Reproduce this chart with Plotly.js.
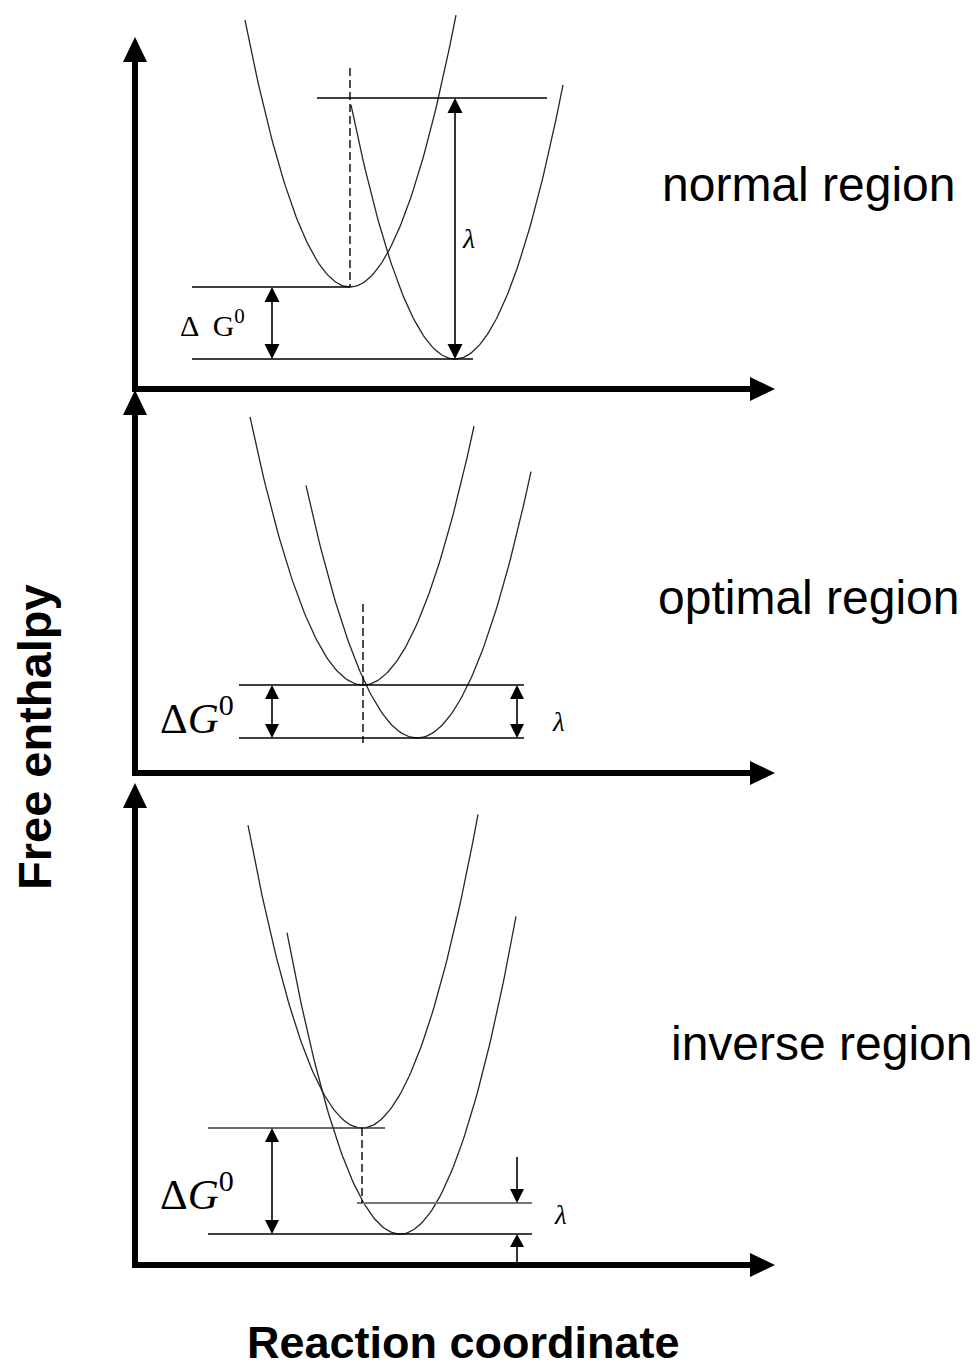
<!DOCTYPE html>
<html><head><meta charset="utf-8">
<script src="https://cdn.plot.ly/plotly-3.0.1.min.js"></script>
<style>html,body{margin:0;padding:0;background:#fff}</style>
</head><body><div id="chart" style="width:979px;height:1372px"></div>
<script>
// ---- data (reaction coordinate q and free enthalpy G, arbitrary units) ----
const regionLabels = ['normal region', 'optimal region', 'inverse region'];
const reactQ    = [2.15, 2.28, 2.27];   // reactant minimum position
const reactG    = [1.02, 0.88, 1.37];   // reactant minimum energy
const reactK    = [2.42, 2.10, 2.33];   // reactant curvature
const reactFrom = [1.10, 1.15, 1.13];
const reactTo   = [3.21, 3.39, 3.43];
const prodQ     = [3.20, 2.82, 2.65];   // product minimum position
const prodG     = [0.30, 0.35, 0.31];   // product minimum energy
const prodK     = [2.35, 2.05, 2.36];   // product curvature
const prodFrom  = [2.16, 1.71, 1.52];
const prodTo    = [4.28, 3.96, 3.81];
const lambda    = [2.61, 0.53, 0.31];   // reorganisation energy
const dGLabels  = ['Δ  G<sup>0</sup>', 'Δ<i>G</i><sup>0</sup>', 'Δ<i>G</i><sup>0</sup>'];
const lambdaLabel = '<i>λ</i>';
const axisTitles = ['Free enthalpy', 'Reaction coordinate'];

// ---- layout geometry ----
const W = 979, H = 1372, PX = 100, ORIGIN_X = 135;
const baselinePx = [389, 773, 1265];
const axisTopG = [3.52, 3.83, 4.82];
const axisEndQ = 6.40;
const yNames = ['y', 'y2', 'y3'];

function parabola(q0, g0, k, a, b) {
  const xs = [], ys = [];
  const n = 120;
  for (let i = 0; i <= n; i++) {
    const q = a + (b - a) * i / n;
    xs.push(q); ys.push(g0 + k * (q - q0) * (q - q0));
  }
  return {xs, ys};
}

const traces = [];
const annotations = [];
const shapes = [];
const curveStyle = {color: '#262626', width: 1.3};
const levelStyle = {color: '#000', width: 1.5};

function seg(p, x, y, line) {
  traces.push({x, y, yaxis: yNames[p], xaxis: 'x', mode: 'lines', line, hoverinfo: 'skip', showlegend: false});
}
// arrow as a shaft line plus filled triangular head(s); sizes in pixels
function head(p, tx, ty, ux, uy, L, hw) {
  const bx = tx - ux * L / PX, by = ty - uy * L / PX;
  const px = -uy * hw / PX, py = ux * hw / PX;
  shapes.push({type: 'path', xref: 'x', yref: yNames[p],
    path: `M${tx},${ty} L${bx + px},${by + py} L${bx - px},${by - py} Z`,
    fillcolor: '#000', line: {width: 0}, layer: 'above'});
  return [bx + ux * 0.02, by + uy * 0.02];
}
function arrow(p, x0, y0, x1, y1, lw, L, hw, both) {
  const d = Math.hypot(x1 - x0, y1 - y0);
  const ux = (x1 - x0) / d, uy = (y1 - y0) / d;
  let e = head(p, x1, y1, ux, uy, L, hw);
  let s = [x0, y0];
  if (both) s = head(p, x0, y0, -ux, -uy, L, hw);
  shapes.push({type: 'line', xref: 'x', yref: yNames[p], x0: s[0], y0: s[1], x1: e[0], y1: e[1],
    line: {color: '#000', width: lw}, layer: 'above'});
}
function label(p, x, y, text, font) {
  annotations.push({x, y, xref: 'x', yref: yNames[p], text, showarrow: false,
    xanchor: 'center', yanchor: 'middle', font});
}

const serif = 'Liberation Serif, Times New Roman, serif';
const sans = 'Liberation Sans, Arial, sans-serif';
const dashStyle = {color: '#000', width: 1.4, dash: '8px,4px'};

for (let p = 0; p < 3; p++) {
  const r = parabola(reactQ[p], reactG[p], reactK[p], reactFrom[p], reactTo[p]);
  const pr = parabola(prodQ[p], prodG[p], prodK[p], prodFrom[p], prodTo[p]);
  seg(p, r.xs, r.ys, curveStyle);
  seg(p, pr.xs, pr.ys, curveStyle);
  // axes
  arrow(p, 0, -0.03, 0, axisTopG[p], 6, 25, 12, false);
  arrow(p, -0.03, 0, axisEndQ, 0, 6, 25, 12, false);
  const lamTop = prodG[p] + lambda[p];
  const regPos = [[6.73, 2.05], [6.74, 1.76], [6.87, 2.22]][p];
  label(p, regPos[0], regPos[1], regionLabels[p], {family: sans, size: 48, color: '#000'});
  if (p === 0) {
    seg(p, [0.57, reactQ[p]], [reactG[p], reactG[p]], levelStyle);
    seg(p, [0.57, 3.38], [prodG[p], prodG[p]], levelStyle);
    seg(p, [1.82, 4.12], [lamTop, lamTop], levelStyle);
    seg(p, [reactQ[p], reactQ[p]], [3.21, reactG[p]], dashStyle);
    arrow(p, 1.37, reactG[p], 1.37, prodG[p], 1.6, 15, 7.5, true);
    arrow(p, prodQ[p], lamTop, prodQ[p], prodG[p], 1.6, 15, 7.5, true);
    label(p, 0.77, 0.66, dGLabels[p], {family: serif, size: 30, color: '#000'});
    label(p, 3.33, 1.51, lambdaLabel, {family: serif, size: 28, color: '#000'});
  } else if (p === 1) {
    seg(p, [1.04, 3.89], [reactG[p], reactG[p]], levelStyle);
    seg(p, [1.04, 3.89], [prodG[p], prodG[p]], levelStyle);
    seg(p, [reactQ[p], reactQ[p]], [1.69, 0.30], dashStyle);
    arrow(p, 1.37, reactG[p], 1.37, prodG[p], 1.6, 14, 7, true);
    arrow(p, 3.82, lamTop, 3.82, prodG[p], 1.6, 14, 7, true);
    label(p, 0.62, 0.58, dGLabels[p], {family: serif, size: 43, color: '#000'});
    label(p, 4.23, 0.51, lambdaLabel, {family: serif, size: 27, color: '#000'});
  } else {
    seg(p, [0.73, 2.50], [reactG[p], reactG[p]], {color: '#333', width: 1.6});
    seg(p, [2.22, 3.97], [lamTop, lamTop], {color: '#777', width: 2});
    seg(p, [0.73, 3.97], [prodG[p], prodG[p]], levelStyle);
    seg(p, [reactQ[p], reactQ[p]], [reactG[p], lamTop], dashStyle);
    arrow(p, 1.37, reactG[p], 1.37, prodG[p], 1.6, 14, 7, true);
    arrow(p, 3.82, 1.08, 3.82, lamTop, 1.6, 14, 7, false);
    arrow(p, 3.82, 0, 3.82, prodG[p], 1.6, 13, 7, false);
    label(p, 0.62, 0.74, dGLabels[p], {family: serif, size: 43, color: '#000'});
    label(p, 4.25, 0.50, lambdaLabel, {family: serif, size: 27, color: '#000'});
  }
}

// axis titles
annotations.push({x: 34 / W, y: 1 - 737 / H, xref: 'paper', yref: 'paper', text: '<b>' + axisTitles[0] + '</b>',
  textangle: -90, showarrow: false, xanchor: 'center', yanchor: 'middle',
  font: {family: sans, size: 47, color: '#000'}});
annotations.push({x: 463 / W, y: 1 - 1342 / H, xref: 'paper', yref: 'paper', text: '<b>' + axisTitles[1] + '</b>',
  showarrow: false, xanchor: 'center', yanchor: 'middle',
  font: {family: sans, size: 45, color: '#000'}});

const hidden = {visible: false, showgrid: false, zeroline: false, fixedrange: true};
const layout = {
  width: W, height: H, margin: {l: 0, r: 0, t: 0, b: 0},
  paper_bgcolor: '#fff', plot_bgcolor: '#fff', showlegend: false,
  xaxis: Object.assign({range: [-ORIGIN_X / PX, (W - ORIGIN_X) / PX]}, hidden),
  annotations, shapes
};
yNames.forEach((n, p) => {
  const key = p === 0 ? 'yaxis' : 'yaxis' + (p + 1);
  layout[key] = Object.assign({range: [(baselinePx[p] - H) / PX, baselinePx[p] / PX]}, hidden);
  if (p > 0) layout[key].overlaying = 'y';
});

Plotly.newPlot('chart', traces, layout, {staticPlot: true, displayModeBar: false});
</script></body></html>
